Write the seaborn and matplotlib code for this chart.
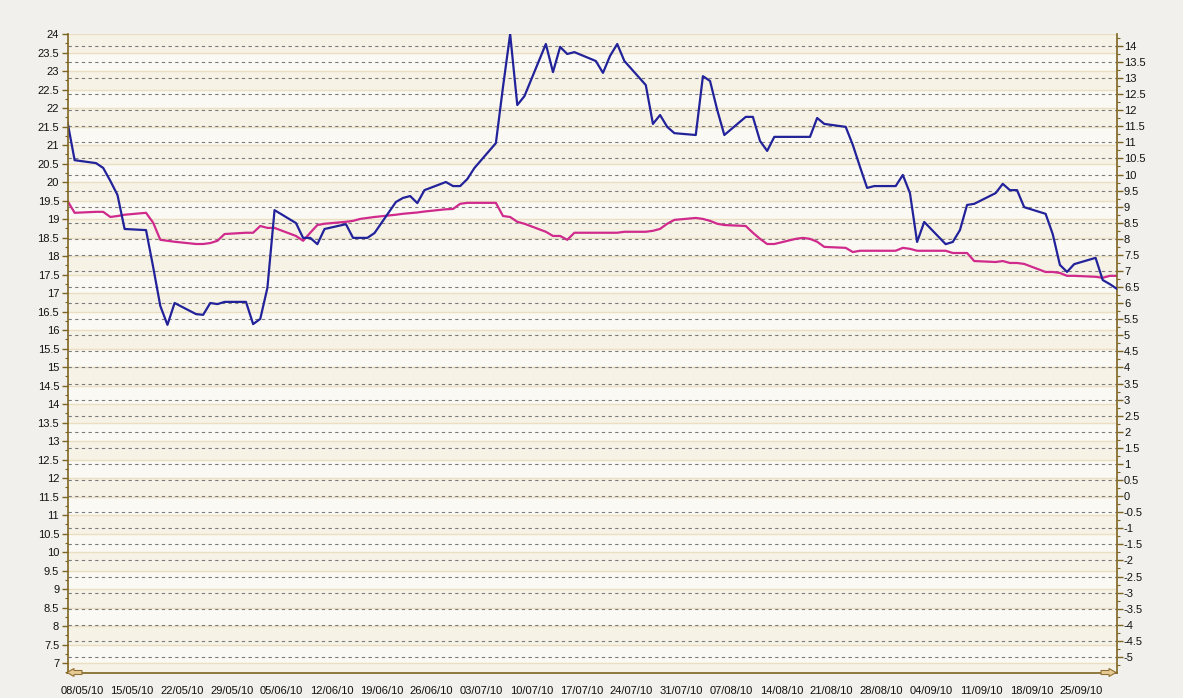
import numpy as np
import pandas as pd
import matplotlib
matplotlib.use("Agg")
import matplotlib.pyplot as plt
import matplotlib.dates as mdates
import matplotlib.transforms as mtransforms
from matplotlib.patches import Rectangle, Polygon
from matplotlib.lines import Line2D
import seaborn as sns

# trading days shown on the chart
dates = pd.bdate_range("2010-05-06", "2010-09-30")

# blue series, left axis
left_vals = [
    21.62, 20.59,
    20.51, 20.38, 20.03, 19.65, 18.73,
    18.70, 17.70, 16.65, 16.14, 16.73,
    16.43, 16.41, 16.73, 16.70, 16.76,
    16.76, 16.16, 16.30, 17.14, 19.24,
    18.89, 18.49, 18.49, 18.32, 18.73,
    18.86, 18.49, 18.49, 18.49, 18.62,
    19.46, 19.57, 19.62, 19.43, 19.78,
    20.00, 19.89, 19.89, 20.08, 20.38,
    21.05, 22.57, 24.00, 22.08, 22.32,
    23.73, 22.97, 23.65, 23.46, 23.51,
    23.27, 22.95, 23.41, 23.73, 23.27,
    22.62, 21.57, 21.81, 21.49, 21.32,
    21.27, 22.86, 22.73, 21.95, 21.27,
    21.76, 21.76, 21.11, 20.84, 21.22,
    21.22, 21.22, 21.22, 21.73, 21.57,
    21.49, 21.00, 20.41, 19.84, 19.89,
    19.89, 20.19, 19.70, 18.38, 18.92,
    18.32, 18.38, 18.70, 19.38, 19.41,
    19.70, 19.95, 19.78, 19.78, 19.32,
    19.14, 18.59, 17.76, 17.57, 17.78,
    17.95, 17.35, 17.24, 17.11,
]

# pink series, right axis
right_vals = [
    9.18, 8.81,
    8.84, 8.84, 8.68, 8.71, 8.75,
    8.81, 8.50, 7.97, 7.94, 7.91,
    7.84, 7.84, 7.87, 7.94, 8.15,
    8.19, 8.19, 8.40, 8.34, 8.34,
    8.09, 7.94, 8.19, 8.43, 8.47,
    8.53, 8.56, 8.62, 8.65, 8.68,
    8.75, 8.78, 8.80, 8.82, 8.85,
    8.92, 8.93, 9.09, 9.12, 9.12,
    9.12, 8.71, 8.68, 8.53, 8.47,
    8.22, 8.09, 8.09, 7.97, 8.19,
    8.19, 8.19, 8.19, 8.19, 8.22,
    8.22, 8.25, 8.31, 8.47, 8.59,
    8.65, 8.62, 8.56, 8.47, 8.43,
    8.40, 8.19, 8.00, 7.84, 7.84,
    8.00, 8.03, 8.00, 7.91, 7.75,
    7.72, 7.59, 7.63, 7.63, 7.63,
    7.63, 7.72, 7.69, 7.63, 7.63,
    7.63, 7.56, 7.56, 7.56, 7.31,
    7.28, 7.31, 7.25, 7.25, 7.22,
    6.97, 6.97, 6.94, 6.85, 6.85,
    6.82, 6.79, 6.85, 6.85,
]

left_ticks = np.arange(7, 24.01, 0.5)
right_ticks = np.arange(-5, 14.01, 0.5)

df = pd.DataFrame({"date": dates, "left": left_vals, "right": right_vals})

sns.set_style("white")
plt.rcParams['font.family'] = ['Liberation Sans', 'DejaVu Sans']
plt.rcParams['font.size'] = 8

W, H = 1183, 698
fig = plt.figure(figsize=(W / 100, H / 100), dpi=100, facecolor='#F1F0EC')
x0, x1, y0, y1 = 67.5, 1117, 34, 673
ax = fig.add_axes([x0 / W, 1 - y1 / H, (x1 - x0) / W, (y1 - y0) / H])
ax2 = ax.twinx()
ax.set_zorder(2)
ax2.set_zorder(1)
ax.patch.set_visible(False)
ax2.patch.set_facecolor('#FAF8F2')

ax.set_ylim(6.73, 24.0)
ax2.set_ylim(-5.5, 14.37)
ax.set_xlim(mdates.date2num(dates[0]), mdates.date2num(dates[-1]))

# alternating bands on the left-axis grid
blend = mtransforms.blended_transform_factory(ax2.transAxes, ax.transData)
band_cols = ['#F7F2E6', '#FBF9F3']
for i, lo in enumerate(np.arange(6.5, 24.0, 0.5)):
    ax2.add_patch(Rectangle((0, lo), 1, 0.5, transform=blend,
                            facecolor=band_cols[i % 2], edgecolor='none', zorder=0.1))
for v in np.arange(7, 24.01, 0.5):
    ax2.add_line(Line2D([0, 1], [v, v], transform=blend, color='#EADFC3',
                        lw=1.0, zorder=0.2))

# dashed grid from the right axis
ax2.set_axisbelow(True)
ax2.yaxis.grid(True, linestyle=(0, (3, 3)), color='#7A7A7A', lw=0.8)
ax2.xaxis.grid(False)
ax.grid(False)

sns.lineplot(data=df, x="date", y="right", ax=ax2, color='#CF2A8C', lw=1.6)
sns.lineplot(data=df, x="date", y="left", ax=ax, color='#22229A', lw=1.6)

axis_col = '#7D6420'
for a in (ax, ax2):
    for s in a.spines.values():
        s.set_visible(False)
    a.set_xlabel('')
    a.set_ylabel('')
ax.spines['left'].set_visible(True)
ax.spines['bottom'].set_visible(True)
ax2.spines['right'].set_visible(True)
for s in (ax.spines['left'], ax.spines['bottom'], ax2.spines['right']):
    s.set_color(axis_col)
    s.set_linewidth(1.2)

ax.set_yticks(left_ticks)
ax.set_yticklabels([f"{v:g}" for v in left_ticks])
ax.set_yticks(np.arange(6.75, 24.01, 0.25), minor=True)
ax2.set_yticks(right_ticks)
ax2.set_yticklabels([f"{v:g}" for v in right_ticks])
ax2.set_yticks(np.arange(-5.25, 14.3, 0.25), minor=True)

start = mdates.date2num(pd.Timestamp("2010-05-08"))
major = start + np.arange(0, 21) * 7
ax.set_xticks(major)
ax.set_xticklabels([mdates.num2date(m).strftime("%d/%m/%y") for m in major])
ax.set_xticks(start + np.arange(-2, 130) * 7 / 6, minor=True)
ax.set_xlim(mdates.date2num(dates[0]), mdates.date2num(dates[-1]))

ax.tick_params(axis='y', which='major', direction='out', length=4, width=1,
               color=axis_col, pad=2, labelsize=8, labelcolor='#111111')
ax.tick_params(axis='y', which='minor', direction='out', length=2, width=0.8,
               color=axis_col)
ax2.tick_params(axis='y', which='major', direction='out', length=4, width=1,
                color=axis_col, pad=1, labelsize=8, labelcolor='#111111')
ax2.tick_params(axis='y', which='minor', direction='out', length=2, width=0.8,
                color=axis_col)
ax.tick_params(axis='x', which='major', direction='out', length=4, width=1,
               color=axis_col, pad=5, labelsize=8, labelcolor='#111111')
ax.tick_params(axis='x', which='minor', direction='out', length=2, width=0.8,
               color=axis_col)
ax2.tick_params(axis='x', which='both', bottom=False, top=False, labelbottom=False)


# small scroll arrows at both ends of the date axis
def px(x, y):
    return (x / W, 1 - y / H)


left_arrow = [px(67, 672.5), px(74, 668.5), px(74, 670.5), px(82, 670.5),
              px(82, 674.5), px(74, 674.5), px(74, 676.5)]
right_arrow = [px(1116, 672.5), px(1109, 668.5), px(1109, 670.5), px(1101, 670.5),
               px(1101, 674.5), px(1109, 674.5), px(1109, 676.5)]
for pts in (left_arrow, right_arrow):
    fig.patches.append(Polygon(pts, closed=True, transform=fig.transFigure,
                               facecolor='#E6CA94', edgecolor='#8F6F33', lw=0.8,
                               zorder=5))

fig.savefig("out.png", dpi=100, facecolor=fig.get_facecolor())
